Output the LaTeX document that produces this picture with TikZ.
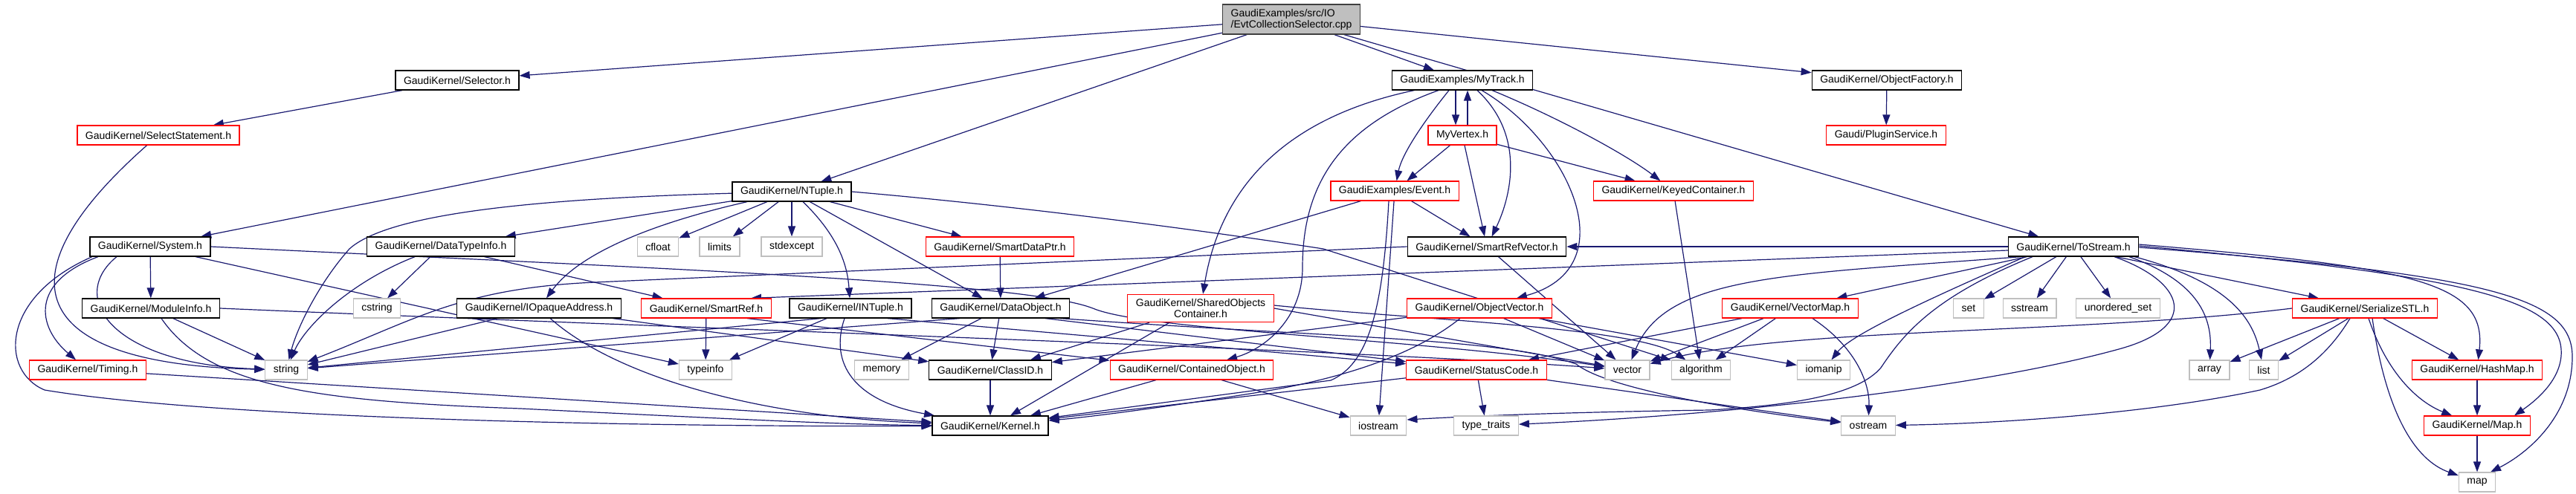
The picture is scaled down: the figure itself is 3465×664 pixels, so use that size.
\documentclass[tikz,border=0pt]{standalone}
\usepackage{fontspec}
\setmainfont{Liberation Sans}
\usetikzlibrary{arrows.meta}
\pgfdeclarelayer{bg}
\pgfsetlayers{bg,main}
\definecolor{edgecol}{HTML}{191970}
\definecolor{redb}{HTML}{FF0000}
\definecolor{grayb}{HTML}{BFBFBF}
\definecolor{topfill}{HTML}{BFBFBF}
\definecolor{topb}{HTML}{404040}
\begin{document}
\begin{tikzpicture}[x=1pt,y=-1pt,
 box/.style={draw, line width=1.2pt, inner xsep=11pt, inner ysep=6pt, minimum height=26pt,
   font=\fontsize{14}{15}\selectfont, align=center, fill=white},
 gnode/.style={box, draw=black},
 rnode/.style={box, draw=redb},
 snode/.style={box, draw=grayb},
 topnode/.style={box, draw=topb, fill=topfill, align=left},
 conn/.style={draw=edgecol, line width=1.2pt, -{Triangle[length=14pt,width=10pt]}}]
\useasboundingbox (0,0) rectangle (3465,664);
% nodes
\node[topnode] (T) at (1737,26) {GaudiExamples/src/IO\\/EvtCollectionSelector.cpp};
\node[gnode] (Sel) at (615,108) {GaudiKernel/Selector.h};
\node[gnode] (Track) at (1967,108) {GaudiExamples/MyTrack.h};
\node[gnode] (ObjFac) at (2538,108) {GaudiKernel/ObjectFactory.h};
\node[rnode] (SelSt) at (213,182) {GaudiKernel/SelectStatement.h};
\node[rnode] (Vtx) at (1967,182) {MyVertex.h};
\node[rnode] (Plugin) at (2537,182) {Gaudi/PluginService.h};
\node[gnode] (NT) at (1065,258) {GaudiKernel/NTuple.h};
\node[rnode] (Evt) at (1876,257) {GaudiExamples/Event.h};
\node[rnode] (Keyed) at (2251,257) {GaudiKernel/KeyedContainer.h};
\node[gnode] (Sys) at (202,332) {GaudiKernel/System.h};
\node[gnode] (DTI) at (593,332) {GaudiKernel/DataTypeInfo.h};
\node[snode] (cfloat) at (885,332) {cfloat};
\node[snode] (limits) at (968,332) {limits};
\node[snode] (stdexcept) at (1065,332) {stdexcept};
\node[rnode] (SDP) at (1345,332) {GaudiKernel/SmartDataPtr.h};
\node[gnode] (SRV) at (2000,332) {GaudiKernel/SmartRefVector.h};
\node[gnode] (TS) at (2789,332) {GaudiKernel/ToStream.h};
\node[gnode] (ModInfo) at (203,415) {GaudiKernel/ModuleInfo.h};
\node[snode] (cstring) at (507,415) {cstring};
\node[gnode] (IOA) at (725,415) {GaudiKernel/IOpaqueAddress.h};
\node[rnode] (SR) at (950,415) {GaudiKernel/SmartRef.h};
\node[gnode] (INT) at (1144,415) {GaudiKernel/INTuple.h};
\node[gnode] (DO) at (1346,415) {GaudiKernel/DataObject.h};
\node[rnode] (SOC) at (1615,415) {GaudiKernel/SharedObjects\\Container.h};
\node[rnode] (OV) at (1990,415) {GaudiKernel/ObjectVector.h};
\node[rnode] (VM) at (2408,415) {GaudiKernel/VectorMap.h};
\node[snode] (set) at (2648,415) {set};
\node[snode] (sstream) at (2730,415) {sstream};
\node[snode] (uset) at (2849,415) {unordered\_set};
\node[rnode] (SSTL) at (3181,415) {GaudiKernel/SerializeSTL.h};
\node[rnode] (Timing) at (118,498) {GaudiKernel/Timing.h};
\node[snode] (string) at (385,498) {string};
\node[snode] (typeinfo) at (949,498) {typeinfo};
\node[snode] (memory) at (1186,498) {memory};
\node[gnode] (CID) at (1332,498) {GaudiKernel/ClassID.h};
\node[rnode] (CO) at (1603,498) {GaudiKernel/ContainedObject.h};
\node[rnode] (SC) at (1986,498) {GaudiKernel/StatusCode.h};
\node[snode] (vector) at (2189,498) {vector};
\node[snode] (algorithm) at (2288,498) {algorithm};
\node[snode] (iomanip) at (2453,498) {iomanip};
\node[snode] (array) at (2972,498) {array};
\node[snode] (list) at (3045,498) {list};
\node[rnode] (HM) at (3332,498) {GaudiKernel/HashMap.h};
\node[gnode] (Kernel) at (1332,573) {GaudiKernel/Kernel.h};
\node[snode] (iostream) at (1854,573) {iostream};
\node[snode] (tt) at (1999,573) {type\_traits};
\node[snode] (ostream) at (2513,573) {ostream};
\node[rnode] (Map) at (3332,573) {GaudiKernel/Map.h};
\node[snode] (map) at (3332,649) {map};
% edges
\begin{pgfonlayer}{bg}
% top
\draw[conn] (T) -- (Sel);
\draw[conn] (T) -- (Sys);
\draw[conn] (T) -- (NT);
\draw[conn] (T) -- (Track);
\draw[conn] (T) -- (ObjFac);
\draw[conn] (T) -- (TS);
\draw[conn] (Sel) -- (SelSt);
\draw[conn] (SelSt) .. controls (0,370) and (30,490) .. (string);
\draw[conn] (ObjFac) -- (Plugin);
% System
\draw[conn] (Sys) -- (ModInfo);
\draw[conn] ([xshift=-70pt]Sys.south) .. controls (40,380) and (50,440) .. (Timing);
\draw[conn] ([xshift=-45pt]Sys.south) .. controls (90,400) and (150,490) .. (string);
\draw[conn] ([xshift=-78pt]Sys.south) .. controls (0,400) and (0,500) .. (60,525) .. controls (300,565) and (900,575) .. (Kernel);
\draw[conn] (Sys) -- (typeinfo);
\draw[conn] (Sys.east) .. controls (900,362) and (1380,380) .. (1470,415) .. controls (1540,445) and (1900,455) .. (vector);
% ModuleInfo
\draw[conn] (ModInfo) -- (string);
\draw[conn] ([xshift=14pt]ModInfo.south) .. controls (280,520) and (420,540) .. (700,550) .. controls (1000,565) and (1150,572) .. (Kernel);
\draw[conn] (ModInfo.east) .. controls (1000,445) and (1800,470) .. (vector);
\draw[conn] (Timing) -- (Kernel);
% DataTypeInfo
\draw[conn] (DTI) .. controls (470,380) and (410,440) .. (string);
\draw[conn] (DTI) -- (cstring);
\draw[conn] (DTI) -- (SR);
% NTuple
\draw[conn] (NT) .. controls (700,268) and (520,290) .. (470,335) .. controls (430,380) and (400,440) .. (string);
\draw[conn] (NT) -- (DTI);
\draw[conn] (NT) .. controls (880,300) and (780,340) .. (IOA);
\draw[conn] (NT) -- (cfloat);
\draw[conn] (NT) -- (limits);
\draw[conn] (NT) -- (stdexcept);
\draw[conn] ([xshift=15pt]NT.south) .. controls (1130,320) and (1140,360) .. (INT);
\draw[conn] (NT) -- (DO);
\draw[conn] (NT) -- (SDP);
\draw[conn] (NT.east) .. controls (1400,280) and (1650,315) .. (1780,335) -- (algorithm);
% IOpaqueAddress
\draw[conn] (IOA) -- (string);
\draw[conn] (IOA) .. controls (820,500) and (1000,560) .. (Kernel);
\draw[conn] (IOA) -- (CID);
% SmartRef
\draw[conn] (SR) -- (typeinfo);
\draw[conn] ([xshift=55pt]SR.south) -- (CO);
% INTuple
\draw[conn] ([xshift=-40pt]INT.south) -- (string);
\draw[conn] (INT) -- (typeinfo);
\draw[conn] ([xshift=-8pt]INT.south) .. controls (1115,490) and (1150,540) .. (Kernel);
\draw[conn] ([xshift=50pt]INT.south) -- (SC);
% DataObject
\draw[conn] ([xshift=-55pt]DO.south) -- (string);
\draw[conn] (DO) -- (memory);
\draw[conn] (DO) -- (CID);
\draw[conn] ([xshift=60pt]DO.south) -- (SC);
\draw[conn] ([xshift=80pt]DO.south) .. controls (1800,455) and (2020,455) .. (2120,490) .. controls (2170,530) and (2400,560) .. (ostream);
\draw[conn] (SDP) -- (DO);
% SharedObjectsContainer
\draw[conn] ([xshift=-69pt]SOC.south) -- ([xshift=54pt]CID.north);
\draw[conn] ([xshift=-42pt]SOC.south) -- ([xshift=27pt]Kernel.north);
\draw[conn] (SOC.east) -- (vector);
\draw[conn] ([yshift=4pt]SOC.east) .. controls (1900,430) and (2200,440) .. (algorithm);
% ClassID, ContainedObject, StatusCode
\draw[conn] (CID) -- (Kernel);
\draw[conn] ([xshift=-48pt]CO.south) -- ([xshift=54pt]Kernel.north);
\draw[conn] ([xshift=40pt]CO.south) -- (iostream);
\draw[conn] (SC) -- (tt);
\draw[conn] (SC) -- (ostream);
\draw[conn] (SC) -- (Kernel);
% MyTrack
\draw[conn] (Track) .. controls (1720,160) and (1640,260) .. (SOC);
\draw[conn] ([xshift=-32pt]Track.south) .. controls (1800,170) and (1752,250) .. (1752,360) .. controls (1752,430) and (1700,470) .. (CO);
\draw[conn] ([xshift=-18pt]Track.south) .. controls (1910,170) and (1885,210) .. (Evt);
\draw[conn] ([xshift=-9pt]Track.south) -- ([xshift=-9pt]Vtx.north);
\draw[conn] ([xshift=7pt]Vtx.north) -- ([xshift=7pt]Track.south);
\draw[conn] ([xshift=20pt]Track.south) .. controls (2055,185) and (2030,270) .. (SRV);
\draw[conn] ([xshift=26pt]Track.south) .. controls (2110,190) and (2190,360) .. ([xshift=50pt]OV.north);
\draw[conn] ([xshift=40pt]Track.south) .. controls (2100,160) and (2190,210) .. (Keyed);
% MyVertex
\draw[conn] (Vtx) -- (Evt);
\draw[conn] (Vtx) -- (SRV);
\draw[conn] (Vtx) -- (Keyed);
% Event
\draw[conn] (Evt) -- (DO);
\draw[conn] (Evt) -- (SRV);
\draw[conn] (Evt) -- (iostream);
\draw[conn] ([xshift=-8pt]Evt.south) .. controls (1860,420) and (1840,490) .. (1790,512) -- (Kernel);
\draw[conn] (Keyed) -- (algorithm);
% ObjectVector
\draw[conn] (OV) -- (CID);
\draw[conn] ([xshift=-26pt]OV.south) .. controls (1900,480) and (1800,510) .. (1700,527) .. controls (1600,543) and (1480,560) .. (Kernel);
\draw[conn] (OV) -- (vector);
\draw[conn] ([xshift=80pt]OV.south) -- (iomanip);
% SmartRefVector
\draw[conn] (SRV) -- (vector);
\draw[conn] (SRV.west) -- (800,380) .. controls (620,388) and (560,430) .. (string);
% ToStream
\draw[conn] (TS.west) -- (SRV.east);
\draw[conn] ([yshift=-5pt]TS.west) -- ([xshift=60pt]SR.north);
\draw[conn] (TS) -- (VM);
\draw[conn] ([xshift=-70pt]TS.south) .. controls (2400,370) and (2240,370) .. (vector);
\draw[conn] ([xshift=-65pt]TS.south) .. controls (2600,400) and (2490,450) .. (iomanip);
\draw[conn] ([xshift=-55pt]TS.south) .. controls (2600,400) and (2560,450) .. (2530,495) .. controls (2500,530) and (2420,545) .. (2300,552) .. controls (2100,555) and (1980,560) .. ([yshift=8pt]iostream.east);
\draw[conn] ([xshift=55pt]TS.south) .. controls (2940,380) and (2960,440) .. (2850,470) .. controls (2650,525) and (2300,560) .. (tt);
\draw[conn] (TS) -- (set);
\draw[conn] (TS) -- (sstream);
\draw[conn] (TS) -- (uset);
\draw[conn] ([xshift=57pt]TS.south) -- ([xshift=-62pt]SSTL.north);
\draw[conn] ([xshift=75pt]TS.south) .. controls (2960,380) and (2975,430) .. (array);
\draw[conn] ([xshift=82pt]TS.south) .. controls (3000,380) and (3030,430) .. (list);
\draw[conn] ([yshift=3pt]TS.east) .. controls (3250,360) and (3345,380) .. (HM);
\draw[conn] ([yshift=1pt]TS.east) .. controls (3300,370) and (3440,400) .. (3445,470) .. controls (3448,510) and (3410,540) .. ([xshift=50pt]Map.north);
\draw[conn] ([yshift=-1pt]TS.east) .. controls (3350,370) and (3460,400) .. (3460,480) .. controls (3460,560) and (3400,610) .. ([xshift=18pt]map.north);
% SerializeSTL
\draw[conn] (SSTL.west) .. controls (2800,450) and (2400,440) .. (vector);
\draw[conn] (SSTL) -- (array);
\draw[conn] (SSTL) -- (list);
\draw[conn] ([xshift=-20pt]SSTL.south) .. controls (3130,480) and (3090,510) .. (3040,525) .. controls (2900,555) and (2700,570) .. (ostream);
\draw[conn] (SSTL) -- (HM);
\draw[conn] ([xshift=5pt]SSTL.south) .. controls (3210,500) and (3250,540) .. (Map);
\draw[conn] ([xshift=10pt]SSTL.south) .. controls (3210,560) and (3250,620) .. (map);
\draw[conn] (HM) -- (Map);
\draw[conn] (Map) -- (map);
% VectorMap
\draw[conn] ([xshift=-65pt]VM.south) -- ([xshift=70pt]SC.north);
\draw[conn] (VM) -- (vector);
\draw[conn] (VM) -- (algorithm);
\draw[conn] ([xshift=30pt]VM.south) .. controls (2500,470) and (2515,520) .. (ostream);
\end{pgfonlayer}
\end{tikzpicture}
\end{document}
